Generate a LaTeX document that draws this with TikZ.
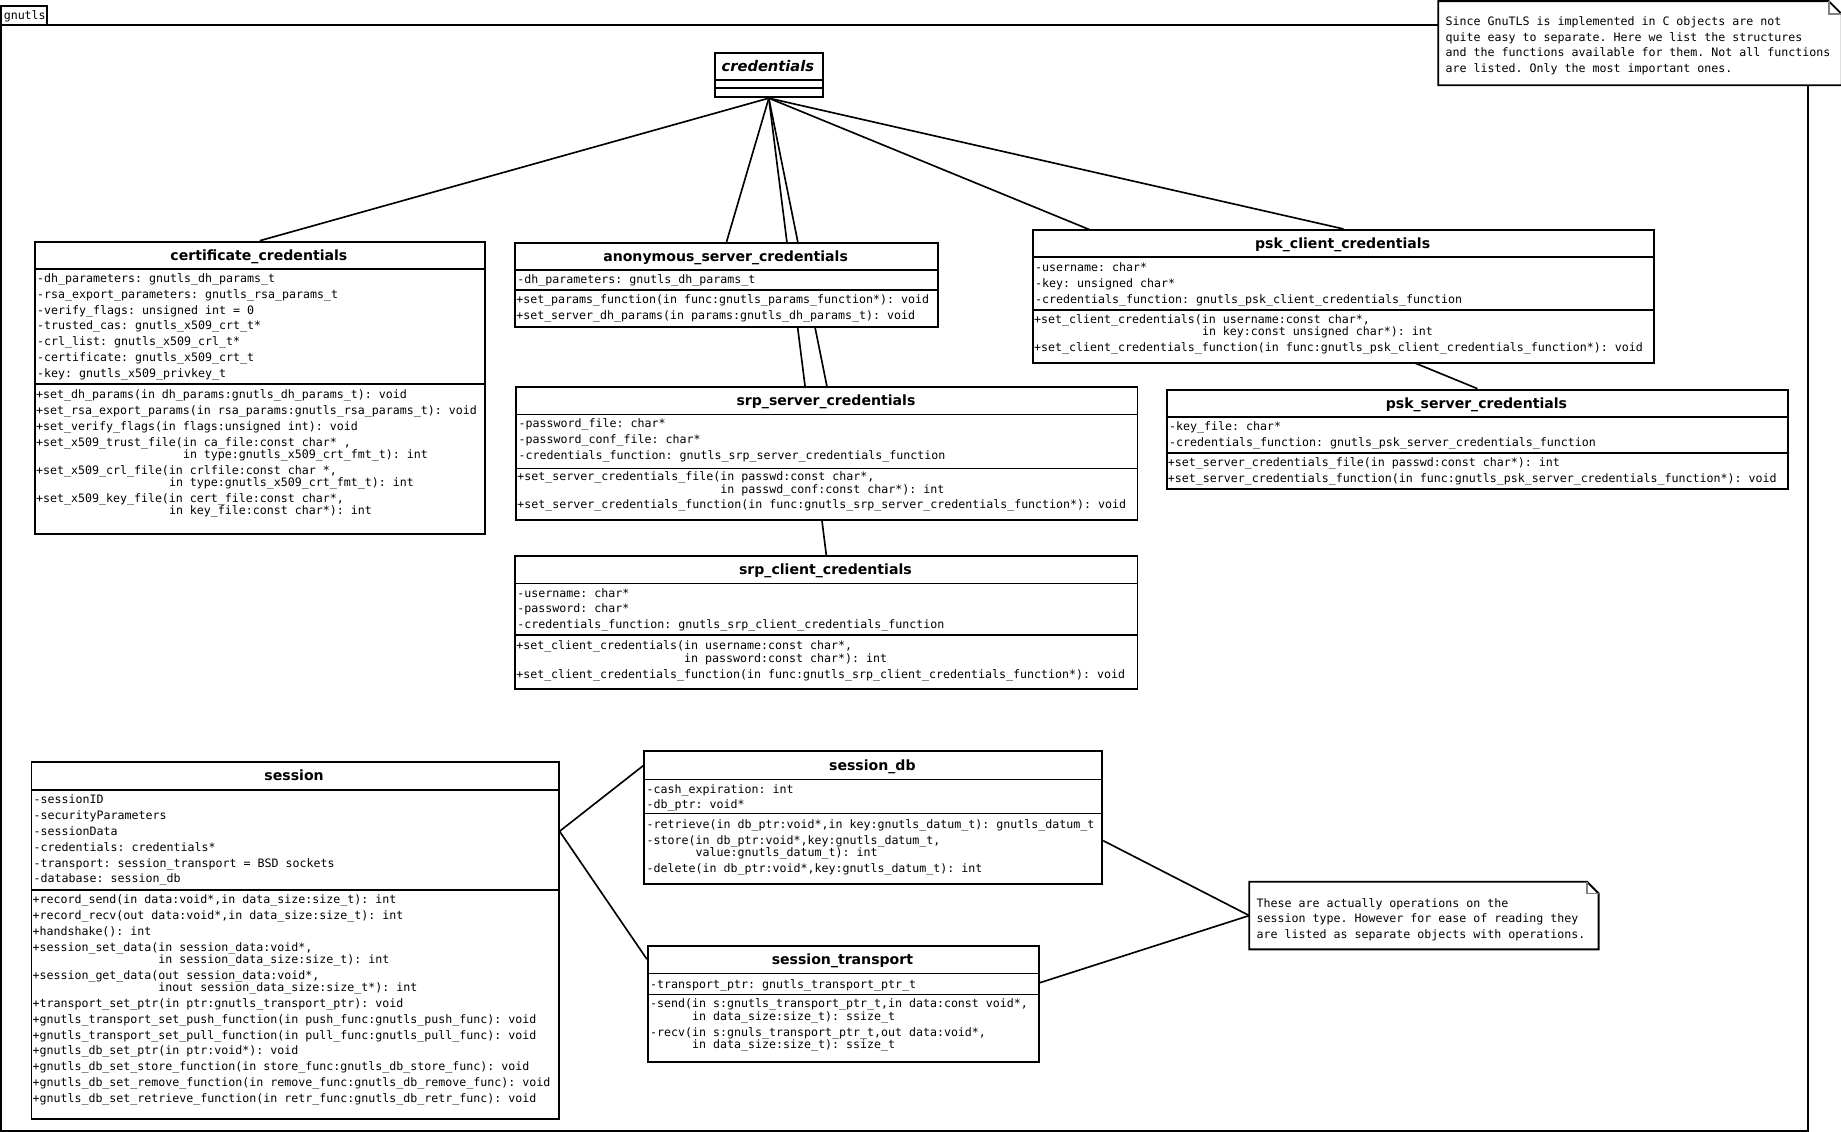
\documentclass[tikz,border=0pt]{standalone}
\usepackage{fontspec}
\newfontfamily\monoF{DejaVu Sans Mono}
\newfontfamily\sansF{DejaVu Sans}
\newcommand\monosetup{\monoF\fontsize{9.9}{13.5}\selectfont\fontdimen2\font=0.602em\fontdimen3\font=0pt\fontdimen4\font=0pt\fontdimen7\font=0pt}
\usetikzlibrary{calc}
\tikzset{
  box/.style={draw, line width=1.6pt, fill=white, inner sep=0pt, anchor=north west, rectangle},
  sepline/.style={line width=1.4pt},
  conn/.style={line width=1.4pt},
  ttl/.style={font=\sansF\bfseries\fontsize{12}{14}\selectfont, anchor=base, inner sep=0pt},
  mono/.style={font=\monosetup, anchor=base west, inner sep=0pt, align=flush left, text width=600pt,
    execute at begin node={\spaceskip=0.602em\relax\xspaceskip=0.602em\relax}},
  notebox/.style={draw, line width=1.6pt, fill=white, line join=miter},
  fold/.style={draw=gray, line width=1.2pt},
  frameline/.style={line width=1.6pt},
}
\begin{document}
\begin{tikzpicture}[x=1pt,y=-1pt]
\useasboundingbox (0,0) rectangle (1568,964);
\fill[white] (0,0) rectangle (1568,964);

% package frame
\draw[frameline] (1,21) -- (1540,21) -- (1540,963) -- (1,963) -- cycle;
\draw[frameline] (1,21) -- (1,5) -- (40,5) -- (40,21);
\node[mono] (pkg) at (3,17) {gnutls};

% class node outlines (for anchoring connectors)
\node[box, minimum width=92pt, minimum height=38pt] (cred) at (608,44) {};
\node[box, minimum width=383pt, minimum height=249pt, draw=none, fill=none] (cert) at (29,205) {};
\node[box, minimum width=360pt, minimum height=72pt, draw=none, fill=none] (anon) at (438,206) {};
\node[box, minimum width=529pt, minimum height=113pt, draw=none, fill=none] (srps) at (439,329) {};
\node[box, minimum width=530pt, minimum height=113pt, draw=none, fill=none] (srpc) at (438,473) {};
\node[box, minimum width=529pt, minimum height=113pt, draw=none, fill=none] (pskc) at (879,195) {};
\node[box, minimum width=529pt, minimum height=85pt, draw=none, fill=none] (psks) at (993,331) {};
\node[box, minimum width=449pt, minimum height=304pt, draw=none, fill=none] (sess) at (26,648) {};
\node[box, minimum width=390pt, minimum height=113pt, draw=none, fill=none] (sdb) at (548,639) {};
\node[box, minimum width=333pt, minimum height=99pt, draw=none, fill=none] (stra) at (551,805) {};
\node[box, minimum width=296pt, minimum height=56pt, draw=none, fill=none] (note2) at (1064,751) {};
\node[box, minimum width=342pt, minimum height=70pt, draw=none, fill=none] (note1) at (1225,1) {};

% connectors (drawn behind the boxes)
\draw[conn] (cred.south) -- (cert.north);
\draw[conn] (cred.south) -- (anon.north);
\draw[conn] (cred.south) -- (srps.north);
\draw[conn] (cred.south) -- (srpc.north);
\draw[conn] (cred.south) -- (pskc.north);
\draw[conn] (cred.south) -- (psks.north);
\draw[conn] ([yshift=-60pt]sess.north east) -- ([yshift=-13pt]sdb.north west);
\draw[conn] ([yshift=-60pt]sess.north east) -- ([yshift=-12pt]stra.north west);
\draw[conn] ([yshift=-77pt]sdb.north east) -- (note2.west);
\draw[conn] ([yshift=-32pt]stra.north east) -- (note2.west);

% ---- credentials
\node[box, minimum width=92pt, minimum height=38pt] at (608,44) {};
\draw[sepline] (608,68) -- (700,68);
\draw[sepline] (608,75) -- (700,75);
\node[ttl, font=\sansF\bfseries\itshape\fontsize{12.5}{14}\selectfont] at (654,60.5) {credentials};

% ---- certificate_credentials
\node[box, minimum width=383pt, minimum height=249pt] at (29,205) {};
\draw[sepline] (29,229) -- (412,229);
\draw[sepline] (29,327) -- (412,327);
\node[ttl] at (220.5,221.5) {certificate\_credentials};
\node[mono] at (31.5,240.5) {-dh\_parameters: gnutls\_dh\_params\_t\\
-rsa\_export\_parameters: gnutls\_rsa\_params\_t\\
-verify\_flags: unsigned int = 0\\
-trusted\_cas: gnutls\_x509\_crt\_t*\\
-crl\_list: gnutls\_x509\_crl\_t*\\
-certificate: gnutls\_x509\_crt\_t\\
-key: gnutls\_x509\_privkey\_t};
\node[mono] at (30.5,339.5) {+set\_dh\_params(in dh\_params:gnutls\_dh\_params\_t): void\\
+set\_rsa\_export\_params(in rsa\_params:gnutls\_rsa\_params\_t): void\\
+set\_verify\_flags(in flags:unsigned int): void\\
+set\_x509\_trust\_file(in ca\_file:const char* ,\\[-3pt]
\hphantom{+set\_x509\_trust\_file(}in type:gnutls\_x509\_crt\_fmt\_t): int\\
+set\_x509\_crl\_file(in crlfile:const char *,\\[-3pt]
\hphantom{+set\_x509\_crl\_file(}in type:gnutls\_x509\_crt\_fmt\_t): int\\
+set\_x509\_key\_file(in cert\_file:const char*,\\[-3pt]
\hphantom{+set\_x509\_key\_file(}in key\_file:const char*): int};

% ---- anonymous_server_credentials
\node[box, minimum width=360pt, minimum height=72pt] at (438,206) {};
\draw[sepline] (438,230) -- (798,230);
\draw[sepline] (438,247) -- (798,247);
\node[ttl] at (618,222.5) {anonymous\_server\_credentials};
\node[mono] at (440.5,241.5) {-dh\_parameters: gnutls\_dh\_params\_t};
\node[mono] at (439.5,258.5) {+set\_params\_function(in func:gnutls\_params\_function*): void\\
+set\_server\_dh\_params(in params:gnutls\_dh\_params\_t): void};

% ---- srp_server_credentials
\node[box, minimum width=529pt, minimum height=113pt] at (439,329) {};
\draw[sepline] (439,353) -- (968,353);
\draw[sepline] (439,399) -- (968,399);
\node[ttl] at (703.5,345.5) {srp\_server\_credentials};
\node[mono] at (441.5,364.5) {-password\_file: char*\\
-password\_conf\_file: char*\\
-credentials\_function: gnutls\_srp\_server\_credentials\_function};
\node[mono] at (440.5,409.5) {+set\_server\_credentials\_file(in passwd:const char*,\\[-3pt]
\hphantom{+set\_server\_credentials\_file(}in passwd\_conf:const char*): int\\
+set\_server\_credentials\_function(in func:gnutls\_srp\_server\_credentials\_function*): void};

% ---- srp_client_credentials
\node[box, minimum width=530pt, minimum height=113pt] at (438,473) {};
\draw[sepline] (438,497) -- (968,497);
\draw[sepline] (438,541) -- (968,541);
\node[ttl] at (703,489.5) {srp\_client\_credentials};
\node[mono] at (440.5,508.5) {-username: char*\\
-password: char*\\
-credentials\_function: gnutls\_srp\_client\_credentials\_function};
\node[mono] at (439.5,553.5) {+set\_client\_credentials(in username:const char*,\\[-3pt]
\hphantom{+set\_client\_credentials(}in password:const char*): int\\
+set\_client\_credentials\_function(in func:gnutls\_srp\_client\_credentials\_function*): void};

% ---- psk_client_credentials
\node[box, minimum width=529pt, minimum height=113pt] at (879,195) {};
\draw[sepline] (879,219) -- (1408,219);
\draw[sepline] (879,264) -- (1408,264);
\node[ttl] at (1143.5,211.5) {psk\_client\_credentials};
\node[mono] at (881.5,231.5) {-username: char*\\
-key: unsigned char*\\
-credentials\_function: gnutls\_psk\_client\_credentials\_function};
\node[mono] at (880.5,275.5) {+set\_client\_credentials(in username:const char*,\\[-3pt]
\hphantom{+set\_client\_credentials(}in key:const unsigned char*): int\\
+set\_client\_credentials\_function(in func:gnutls\_psk\_client\_credentials\_function*): void};

% ---- psk_server_credentials
\node[box, minimum width=529pt, minimum height=85pt] at (993,331) {};
\draw[sepline] (993,355) -- (1522,355);
\draw[sepline] (993,386) -- (1522,386);
\node[ttl] at (1257.5,347.5) {psk\_server\_credentials};
\node[mono] at (995.5,366.5) {-key\_file: char*\\
-credentials\_function: gnutls\_psk\_server\_credentials\_function};
\node[mono] at (994.5,397.5) {+set\_server\_credentials\_file(in passwd:const char*): int\\
+set\_server\_credentials\_function(in func:gnutls\_psk\_server\_credentials\_function*): void};

% ---- session
\node[box, minimum width=449pt, minimum height=304pt] at (26,648) {};
\draw[sepline] (26,673) -- (475,673);
\draw[sepline] (26,758) -- (475,758);
\node[ttl] at (250.5,665) {session};
\node[mono] at (28.5,684.5) {-sessionID\\
-securityParameters\\
-sessionData\\
-credentials: credentials*\\
-transport: session\_transport = BSD sockets\\
-database: session\_db};
\node[mono] at (27.5,769.5) {+record\_send(in data:void*,in data\_size:size\_t): int\\
+record\_recv(out data:void*,in data\_size:size\_t): int\\
+handshake(): int\\
+session\_set\_data(in session\_data:void*,\\[-3pt]
\hphantom{+session\_set\_data(}in session\_data\_size:size\_t): int\\
+session\_get\_data(out session\_data:void*,\\[-3pt]
\hphantom{+session\_get\_data(}inout session\_data\_size:size\_t*): int\\
+transport\_set\_ptr(in ptr:gnutls\_transport\_ptr): void\\
+gnutls\_transport\_set\_push\_function(in push\_func:gnutls\_push\_func): void\\
+gnutls\_transport\_set\_pull\_function(in pull\_func:gnutls\_pull\_func): void\\
+gnutls\_db\_set\_ptr(in ptr:void*): void\\
+gnutls\_db\_set\_store\_function(in store\_func:gnutls\_db\_store\_func): void\\
+gnutls\_db\_set\_remove\_function(in remove\_func:gnutls\_db\_remove\_func): void\\
+gnutls\_db\_set\_retrieve\_function(in retr\_func:gnutls\_db\_retr\_func): void};

% ---- session_db
\node[box, minimum width=390pt, minimum height=113pt] at (548,639) {};
\draw[sepline] (548,664) -- (938,664);
\draw[sepline] (548,693) -- (938,693);
\node[ttl] at (743,656) {session\_db};
\node[mono] at (550.5,675.5) {-cash\_expiration: int\\
-db\_ptr: void*};
\node[mono] at (550.5,705.5) {-retrieve(in db\_ptr:void*,in key:gnutls\_datum\_t): gnutls\_datum\_t\\
-store(in db\_ptr:void*,key:gnutls\_datum\_t,\\[-3pt]
\hphantom{-store(}value:gnutls\_datum\_t): int\\
-delete(in db\_ptr:void*,key:gnutls\_datum\_t): int};

% ---- session_transport
\node[box, minimum width=333pt, minimum height=99pt] at (551,805) {};
\draw[sepline] (551,829) -- (884,829);
\draw[sepline] (551,847) -- (884,847);
\node[ttl] at (717.5,821.5) {session\_transport};
\node[mono] at (553.5,841.5) {-transport\_ptr: gnutls\_transport\_ptr\_t};
\node[mono] at (553.5,858.5) {-send(in s:gnutls\_transport\_ptr\_t,in data:const void*,\\[-3pt]
\hphantom{-send(}in data\_size:size\_t): ssize\_t\\
-recv(in s:gnuls\_transport\_ptr\_t,out data:void*,\\[-3pt]
\hphantom{-recv(}in data\_size:size\_t): ssize\_t};

% ---- notes
\draw[notebox] (note1.north west) -- ([xshift=-11pt]note1.north east) -- ([yshift=-11pt]note1.north east) -- (note1.south east) -- (note1.south west) -- cycle;
\draw[fold] ([xshift=-11pt]note1.north east) -- ([xshift=-11pt,yshift=-11pt]note1.north east) -- ([yshift=-11pt]note1.north east);
\node[mono] at (1231,21.5) {Since GnuTLS is implemented in C objects are not\\
quite easy to separate. Here we list the structures\\
and the functions available for them. Not all functions\\
are listed. Only the most important ones.};

\draw[notebox] (note2.north west) -- ([xshift=-10pt]note2.north east) -- ([yshift=-10pt]note2.north east) -- (note2.south east) -- (note2.south west) -- cycle;
\draw[fold] ([xshift=-10pt]note2.north east) -- ([xshift=-10pt,yshift=-10pt]note2.north east) -- ([yshift=-10pt]note2.north east);
\node[mono] at (1070,772.5) {These are actually operations on the\\
session type. However for ease of reading they\\
are listed as separate objects with operations.};
\end{tikzpicture}
\end{document}
